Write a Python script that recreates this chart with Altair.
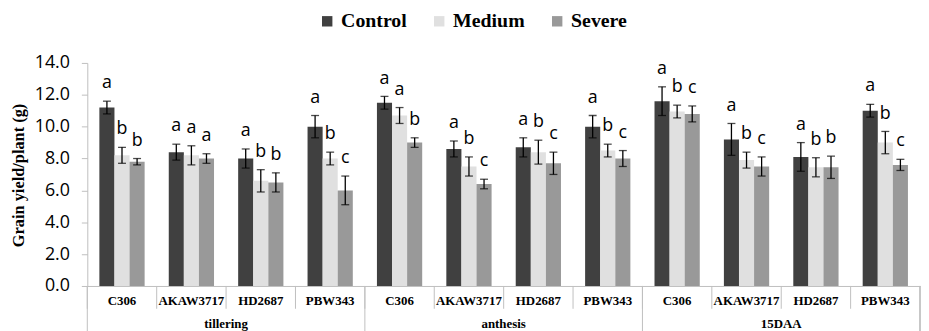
import altair as alt
import pandas as pd

stages = ["tillering", "anthesis", "15DAA"]
cultivars = ["C306", "AKAW3717", "HD2687", "PBW343"]
treatments = ["Control", "Medium", "Severe"]
colors = ["#404040", "#e0e0e0", "#999999"]

control = [11.2, 8.4, 8.0, 10.0, 11.5, 8.6, 8.7, 10.0, 11.6, 9.2, 8.1, 11.0]
medium = [8.2, 8.2, 6.6, 8.0, 10.7, 7.5, 8.4, 8.5, 10.95, 7.9, 7.45, 9.0]
severe = [7.8, 8.0, 6.5, 6.0, 9.0, 6.4, 7.7, 8.0, 10.8, 7.5, 7.45, 7.6]

control_err = [0.4, 0.5, 0.6, 0.7, 0.4, 0.5, 0.6, 0.7, 0.9, 1.0, 0.9, 0.4]
medium_err = [0.5, 0.6, 0.7, 0.4, 0.5, 0.6, 0.75, 0.4, 0.4, 0.5, 0.6, 0.7]
severe_err = [0.2, 0.3, 0.6, 0.9, 0.3, 0.3, 0.7, 0.5, 0.5, 0.6, 0.7, 0.35]

control_let = ["a"] * 12
medium_let = ["b", "a", "b", "b", "a", "b", "b", "b", "b", "b", "b", "b"]
severe_let = ["b", "a", "b", "c", "b", "c", "c", "c", "c", "c", "b", "c"]

keys = [f"{s}|{c}" for s in stages for c in cultivars]

series = {
    "Control": (control, control_err, control_let),
    "Medium": (medium, medium_err, medium_let),
    "Severe": (severe, severe_err, severe_let),
}
rows = []
for t in treatments:
    vals, errs, lets = series[t]
    for i, k in enumerate(keys):
        rows.append({"key": k, "treatment": t, "value": vals[i],
                     "lo": vals[i] - errs[i], "hi": vals[i] + errs[i],
                     "letter": lets[i]})
df = pd.DataFrame(rows)

W, H = 840, 225
AX = "#bfbfbf"

x_scale = alt.Scale(domain=keys, paddingInner=0, paddingOuter=0)
x_axis = alt.Axis(title=None, labelExpr="split(datum.value,'|')[1]",
                  ticks=False, domainColor=AX, labelAngle=0,
                  labelFont="Liberation Serif", labelFontWeight="bold",
                  labelFontSize=13, labelColor="black", labelPadding=9)
x_enc = alt.X("key:N", sort=keys, scale=x_scale, axis=x_axis)
x_edge = alt.X("key:N", sort=keys, bandPosition=0, scale=x_scale, axis=x_axis)
xo_enc = alt.XOffset("treatment:N", sort=treatments,
                     scale=alt.Scale(domain=treatments, paddingInner=0, paddingOuter=0.8))

y_scale = alt.Scale(domain=[0, 14])
y_axis = alt.Axis(values=[0, 2, 4, 6, 8, 10, 12, 14], format=".1f", grid=False,
                  domainColor=AX, tickColor=AX, tickSize=6, labelPadding=12,
                  labelFont="Open Sans", labelFontSize=18, labelColor="black",
                  title="Grain yield/plant (g)", titleFont="Liberation Serif",
                  titleFontWeight="bold", titleFontSize=16.5, titleColor="black",
                  titleX=-69, titleY=113, titleAngle=270, titleAlign="center",
                  titleBaseline="middle")

bars = alt.Chart(df).mark_bar().encode(
    x=x_enc,
    xOffset=xo_enc,
    y=alt.Y("value:Q", scale=y_scale, axis=y_axis),
    color=alt.Color("treatment:N", sort=treatments,
                    scale=alt.Scale(domain=treatments, range=colors),
                    legend=alt.Legend(orient="none", legendX=232, legendY=-52,
                                      direction="horizontal", title=None,
                                      symbolType="square", symbolSize=110,
                                      symbolStrokeWidth=0,
                                      labelFont="Liberation Serif", labelFontWeight="bold",
                                      labelFontSize=20, labelColor="black",
                                      columnPadding=22, labelOffset=4)),
)

err = alt.Chart(df).mark_rule(color="black", strokeWidth=1.3).encode(
    x=x_enc, xOffset=xo_enc,
    y=alt.Y("lo:Q", scale=y_scale, axis=y_axis), y2="hi:Q")
cap_hi = alt.Chart(df).mark_tick(orient="horizontal", size=8, thickness=1.3, color="black").encode(
    x=x_enc, xOffset=xo_enc, y=alt.Y("hi:Q", scale=y_scale, axis=y_axis))
cap_lo = alt.Chart(df).mark_tick(orient="horizontal", size=8, thickness=1.3, color="black").encode(
    x=x_enc, xOffset=xo_enc, y=alt.Y("lo:Q", scale=y_scale, axis=y_axis))
letters = alt.Chart(df).mark_text(font="Open Sans", fontSize=18, baseline="bottom", dy=-9,
                                  color="black").encode(
    x=x_enc, xOffset=xo_enc, y=alt.Y("hi:Q", scale=y_scale, axis=y_axis), text="letter:N")

div_df = pd.DataFrame({"key": keys})
small_div = alt.Chart(div_df).mark_rule(color=AX).encode(
    x=x_edge, y=alt.value(H), y2=alt.value(H + 23))
stage_df = pd.DataFrame({"key": [f"{s}|{cultivars[0]}" for s in stages]})
big_div = alt.Chart(stage_df).mark_rule(color=AX).encode(
    x=x_edge, y=alt.value(H), y2=alt.value(H + 50))
end_div = alt.Chart(stage_df).mark_rule(color=AX).encode(
    x=alt.value(W), y=alt.value(H), y2=alt.value(H + 50))

label_df = pd.DataFrame({"key": [f"{s}|{cultivars[2]}" for s in stages], "stage": stages})
stage_labels = alt.Chart(label_df).mark_text(font="Liberation Serif", fontWeight="bold",
                                             fontSize=13, color="black", baseline="middle").encode(
    x=x_edge, y=alt.value(H + 38), text="stage:N")

chart = alt.layer(bars, err, cap_hi, cap_lo, letters, small_div, big_div, end_div,
                  stage_labels).properties(
    width=W, height=H,
    padding={"left": 80, "top": 54, "right": 1, "bottom": 44},
    autosize=alt.AutoSizeParams(type="none"),
).configure_view(stroke=None)

chart.save("out.html", embed_options={"renderer": "svg", "actions": False})
